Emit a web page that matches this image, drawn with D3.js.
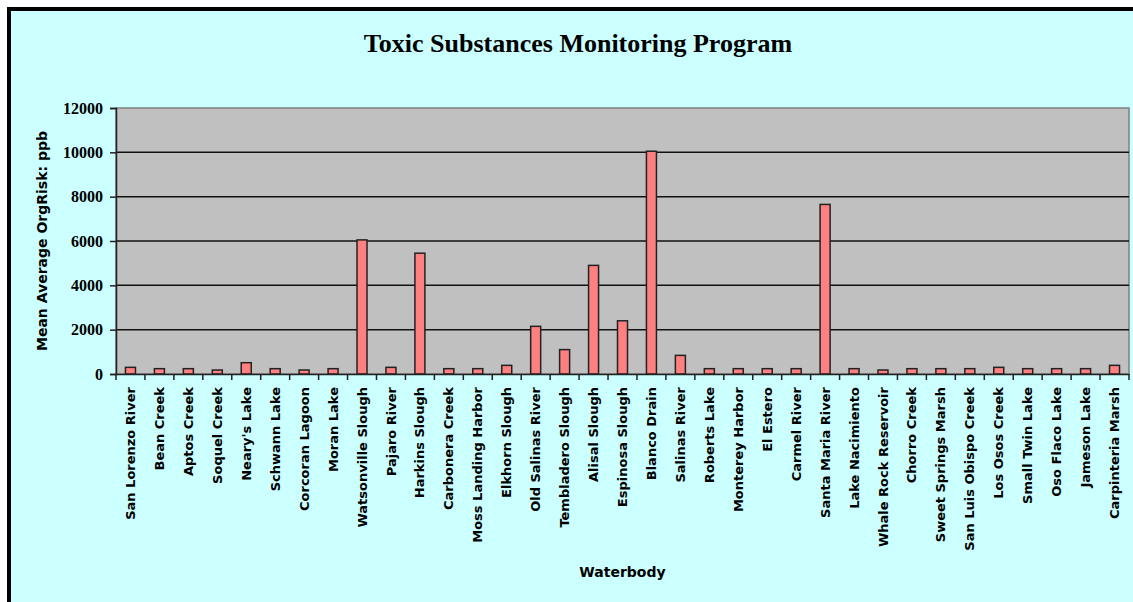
<!DOCTYPE html>
<html>
<head>
<meta charset="utf-8">
<script src="https://cdn.jsdelivr.net/npm/d3@7"></script>
<style>
  body { margin: 0; background: #fff; }
  svg { display: block; }
</style>
</head>
<body>
<div id="chart"></div>
<script>
// waterbodies along the x axis
var waterbodies = ['San Lorenzo River', 'Bean Creek', 'Aptos Creek', 'Soquel Creek', "Neary's Lake",
  'Schwann Lake', 'Corcoran Lagoon', 'Moran Lake', 'Watsonville Slough', 'Pajaro River',
  'Harkins Slough', 'Carbonera Creek', 'Moss Landing Harbor', 'Elkhorn Slough', 'Old Salinas River',
  'Tembladero Slough', 'Alisal Slough', 'Espinosa Slough', 'Blanco Drain', 'Salinas River',
  'Roberts Lake', 'Monterey Harbor', 'El Estero', 'Carmel River', 'Santa Maria River',
  'Lake Nacimiento', 'Whale Rock Reservoir', 'Chorro Creek', 'Sweet Springs Marsh', 'San Luis Obispo Creek',
  'Los Osos Creek', 'Small Twin Lake', 'Oso Flaco Lake', 'Jameson Lake', 'Carpinteria Marsh']

// mean average OrgRisk, ppb
var orgRisk = [300, 240, 240, 180, 510,
  240, 180, 240, 6050, 300,
  5450, 240, 240, 390, 2150,
  1100, 4900, 2400, 10050, 840,
  240, 240, 240, 240, 7650,
  240, 180, 240, 240, 240,
  300, 240, 240, 240, 390]

var yTicks = [0, 2000, 4000, 6000, 8000, 10000, 12000]

var W = 1133
var H = 602
var margin = { top: 108, right: 4, bottom: 228, left: 116 }
var width = W - margin.left - margin.right
var height = H - margin.top - margin.bottom

var root = d3.select('#chart')
  .append('svg')
  .attr('width', W)
  .attr('height', H)

// chart background with the heavy black frame (right and bottom run off the page)
root.append('rect')
  .attr('x', 9)
  .attr('y', 9)
  .attr('width', W + 20)
  .attr('height', H + 20)
  .attr('fill', '#ccffff')
  .attr('stroke', '#000')
  .attr('stroke-width', 4)

root.append('text')
  .attr('x', 578)
  .attr('y', 52)
  .attr('text-anchor', 'middle')
  .style('font-family', '"Liberation Serif", "Times New Roman", serif')
  .style('font-weight', 'bold')
  .style('font-size', '26px')
  .text('Toxic Substances Monitoring Program')

var svg = root.append('g')
  .attr('transform', 'translate(' + margin.left + ',' + margin.top + ')')

var xScale = d3.scaleBand()
  .domain(waterbodies)
  .range([0, width])

var yScale = d3.scaleLinear()
  .domain([0, 12000])
  .range([height, 0])

// plot area
svg.append('rect')
  .attr('width', width)
  .attr('height', height)
  .attr('fill', '#c0c0c0')
  .attr('stroke', '#808080')
  .attr('stroke-width', 1.5)

// gridlines
svg.selectAll('.grid')
  .data(yTicks.filter(d => d > 0 && d < 12000))
  .enter()
  .append('line')
  .attr('class', 'grid')
  .attr('x1', 0)
  .attr('x2', width)
  .attr('y1', d => yScale(d))
  .attr('y2', d => yScale(d))
  .attr('stroke', '#111')
  .attr('stroke-width', 1.5)

// bars
var barW = 10
svg.selectAll('.bar')
  .data(orgRisk)
  .enter()
  .append('rect')
  .attr('class', 'bar')
  .attr('x', (d, i) => xScale(waterbodies[i]) + xScale.bandwidth() / 2 - barW / 2)
  .attr('y', d => yScale(d))
  .attr('width', barW)
  .attr('height', d => height - yScale(d))
  .attr('fill', '#ff8080')
  .attr('stroke', '#222')
  .attr('stroke-width', 1.5)

// y axis
var yAxis = d3.axisLeft(yScale)
  .tickValues(yTicks)
  .tickSize(6)
  .tickPadding(7)
  .tickFormat(d3.format('d'))
svg.append('g')
  .attr('class', 'axis y-axis')
  .call(yAxis)
  .call(g => g.select('.domain').attr('stroke', '#222').attr('stroke-width', 1.5))
  .call(g => g.selectAll('.tick line').attr('stroke', '#222').attr('stroke-width', 1.5))
  .call(g => g.selectAll('.tick text')
    .attr('fill', '#000')
    .style('font-family', '"Liberation Serif", "Times New Roman", serif')
    .style('font-weight', 'bold')
    .style('font-size', '16px'))

// x axis: labels centred under bars, ticks between categories
var xAxis = d3.axisBottom(xScale).tickSize(0).tickPadding(0)
svg.append('g')
  .attr('class', 'axis x-axis')
  .attr('transform', 'translate(0,' + height + ')')
  .call(xAxis)
  .call(g => g.select('.domain').attr('stroke', '#222').attr('stroke-width', 1.5))
  .call(g => g.selectAll('.tick text')
    .attr('fill', '#000')
    .attr('transform', 'rotate(-90)')
    .attr('text-anchor', 'end')
    .attr('x', -13)
    .attr('y', 0)
    .attr('dy', '0.35em')
    .style('font-family', '"DejaVu Sans", sans-serif')
    .style('font-weight', 'bold')
    .style('font-size', '13px'))

svg.append('g')
  .selectAll('line')
  .data(d3.range(waterbodies.length + 1))
  .enter()
  .append('line')
  .attr('x1', i => i * xScale.step())
  .attr('x2', i => i * xScale.step())
  .attr('y1', height)
  .attr('y2', height + 6)
  .attr('stroke', '#222')
  .attr('stroke-width', 1.5)

// axis titles
root.append('text')
  .attr('transform', 'translate(47,' + (margin.top + height / 2) + ') rotate(-90)')
  .attr('text-anchor', 'middle')
  .style('font-family', '"DejaVu Sans", sans-serif')
  .style('font-weight', 'bold')
  .style('font-size', '14px')
  .text('Mean Average OrgRisk: ppb')

root.append('text')
  .attr('x', margin.left + width / 2)
  .attr('y', 577)
  .attr('text-anchor', 'middle')
  .style('font-family', '"DejaVu Sans", sans-serif')
  .style('font-weight', 'bold')
  .style('font-size', '14px')
  .text('Waterbody')
</script>
</body>
</html>
